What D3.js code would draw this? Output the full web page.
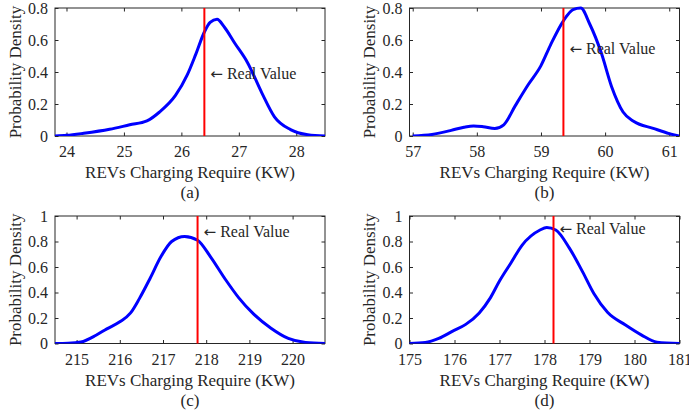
<!DOCTYPE html>
<html>
<head>
<meta charset="utf-8">
<script src="https://cdn.jsdelivr.net/npm/d3@7"></script>
<style>
  body { margin: 0; background: #fff; }
</style>
</head>
<body>
<script>
// --- data ---
var labels = ["(a)", "(b)", "(c)", "(d)"];

var aX = [23.8, 24.0, 24.3, 24.75, 25.1, 25.4, 25.62, 25.9, 26.1, 26.25, 26.4, 26.5, 26.62, 26.75, 26.93, 27.15, 27.4, 27.62, 27.9, 28.2, 28.5];
var aY = [0.0, 0.004, 0.017, 0.042, 0.07, 0.094, 0.15, 0.255, 0.38, 0.51, 0.65, 0.71, 0.73, 0.68, 0.58, 0.46, 0.27, 0.12, 0.04, 0.008, 0.0];

var bX = [57.0, 57.3, 57.6, 57.8, 57.95, 58.1, 58.28, 58.42, 58.6, 58.8, 59.0, 59.15, 59.35, 59.5, 59.62, 59.76, 59.94, 60.1, 60.28, 60.45, 60.75, 61.0, 61.15];
var bY = [0.0, 0.01, 0.035, 0.055, 0.063, 0.058, 0.047, 0.07, 0.19, 0.32, 0.44, 0.57, 0.72, 0.79, 0.80, 0.70, 0.52, 0.31, 0.15, 0.09, 0.048, 0.015, 0.0];

var cX = [214.5, 214.8, 215.1, 215.45, 215.7, 216.0, 216.25, 216.45, 216.7, 216.95, 217.2, 217.5, 217.8, 218.1, 218.45, 218.75, 219.1, 219.5, 219.9, 220.3, 220.75];
var cY = [0.0, 0.002, 0.012, 0.065, 0.115, 0.17, 0.24, 0.35, 0.51, 0.68, 0.8, 0.84, 0.81, 0.68, 0.5, 0.36, 0.23, 0.12, 0.04, 0.008, 0.0];

var dX = [175.0, 175.35, 175.65, 175.95, 176.25, 176.55, 176.8, 177.0, 177.25, 177.5, 177.9, 178.05, 178.25, 178.55, 178.85, 179.1, 179.4, 179.8, 180.15, 180.5, 181.0];
var dY = [0.0, 0.008, 0.04, 0.095, 0.15, 0.24, 0.36, 0.49, 0.63, 0.77, 0.89, 0.91, 0.89, 0.75, 0.56, 0.39, 0.245, 0.145, 0.068, 0.01, 0.0];

var realValues = [26.4, 59.35, 217.8, 178.2];

var xDomains = [[23.8, 28.5], [56.95, 61.16], [214.5, 220.75], [175, 181]];
var yMax = [0.8, 0.8, 1, 1];

var xTicks = [[24, 25, 26, 27, 28], [57, 58, 59, 60, 61], [215, 216, 217, 218, 219, 220], [175, 176, 177, 178, 179, 180, 181]];
var yTicks = [[0, 0.2, 0.4, 0.6, 0.8], [0, 0.2, 0.4, 0.6, 0.8], [0, 0.2, 0.4, 0.6, 0.8, 1], [0, 0.2, 0.4, 0.6, 0.8, 1]];

var seriesX = [aX, bX, cX, dX];
var seriesY = [aY, bY, cY, dY];

// annotation height (data units) of the "Real Value" arrow
var annotY = [0.39, 0.545, 0.88, 0.9];

// --- layout ---
var width = 689, height = 411;
var boxes = [
  {left: 55, top: 8, w: 270, h: 128},
  {left: 409.5, top: 8, w: 270, h: 128},
  {left: 55, top: 216, w: 270, h: 127.5},
  {left: 409.5, top: 216, w: 270, h: 127.5}
];
var tickLen = 3.5;
var axisColor = "#262626";
var serif = "'Liberation Serif', 'Times New Roman', Times, serif";

var svg = d3.select("body").append("svg")
    .attr("width", width)
    .attr("height", height)
    .style("font-family", serif);

boxes.forEach(function(b, i) {
  var g = svg.append("g").attr("transform", "translate(" + b.left + "," + b.top + ")");

  var x = d3.scaleLinear().domain(xDomains[i]).range([0, b.w]);
  var y = d3.scaleLinear().domain([0, yMax[i]]).range([b.h, 0]);

  var xAxis = g.append("g").attr("transform", "translate(0," + b.h + ")")
      .call(d3.axisBottom(x).tickValues(xTicks[i]).tickSizeInner(-tickLen).tickSizeOuter(0).tickPadding(10).tickFormat(d3.format("d")));
  var yAxis = g.append("g")
      .call(d3.axisLeft(y).tickValues(yTicks[i]).tickSizeInner(-tickLen).tickSizeOuter(0).tickPadding(7)
        .tickFormat(function(d) { return d === 0 ? "0" : (d === 1 ? "1" : d3.format(".1f")(d)); }));
  // mirrored ticks on top and right
  var xTop = g.append("g")
      .call(d3.axisTop(x).tickValues(xTicks[i]).tickSizeInner(-tickLen).tickSizeOuter(0).tickFormat(""));
  var yRight = g.append("g").attr("transform", "translate(" + b.w + ",0)")
      .call(d3.axisRight(y).tickValues(yTicks[i]).tickSizeInner(-tickLen).tickSizeOuter(0).tickFormat(""));

  [xAxis, yAxis, xTop, yRight].forEach(function(a) {
    a.attr("font-family", null).attr("font-size", null);
    a.select(".domain").remove();
    a.selectAll("line").attr("stroke", axisColor);
    a.selectAll("text")
      .style("font-family", serif)
      .style("font-size", "16px")
      .attr("fill", axisColor);
  });

  g.append("rect")
      .attr("width", b.w).attr("height", b.h)
      .attr("fill", "none").attr("stroke", axisColor).attr("stroke-width", 1);

  var clip = "clip" + i;
  g.append("clipPath").attr("id", clip).append("rect")
      .attr("x", -2).attr("y", -2).attr("width", b.w + 4).attr("height", b.h + 2);

  var pts = seriesX[i].map(function(v, k) { return [v, seriesY[i][k]]; });
  var line = d3.line()
      .x(function(d) { return x(d[0]); })
      .y(function(d) { return y(d[1]); })
      .curve(d3.curveMonotoneX);

  g.append("path")
      .datum(pts)
      .attr("clip-path", "url(#" + clip + ")")
      .attr("d", line)
      .attr("fill", "none")
      .attr("stroke", "#0000ff")
      .attr("stroke-width", 3)
      .attr("stroke-linejoin", "round");

  g.append("line")
      .attr("x1", x(realValues[i])).attr("x2", x(realValues[i]))
      .attr("y1", 0).attr("y2", b.h)
      .attr("stroke", "#ff0000")
      .attr("stroke-width", 2);

  var ann = g.append("text")
      .attr("x", x(realValues[i]) + 6)
      .attr("y", y(annotY[i]))
      .attr("dy", "0.35em")
      .style("font-family", serif)
      .style("font-size", "16px")
      .attr("fill", "#262626");
  ann.append("tspan")
      .style("font-family", "'DejaVu Sans', sans-serif")
      .style("font-size", "15px")
      .text("\u2190");
  ann.append("tspan").text(" Real Value");

  g.append("text")
      .attr("transform", "translate(" + (-40) + "," + (b.h / 2) + ") rotate(-90)")
      .attr("text-anchor", "middle")
      .attr("dy", "0.35em")
      .style("font-family", serif)
      .style("font-size", "17px")
      .attr("fill", "#262626")
      .text("Probability Density");

  g.append("text")
      .attr("x", b.w / 2).attr("y", b.h + 42)
      .attr("text-anchor", "middle")
      .style("font-family", serif)
      .style("font-size", "17px")
      .attr("fill", "#262626")
      .text("REVs Charging Require (KW)");

  g.append("text")
      .attr("x", b.w / 2).attr("y", b.h + 62)
      .attr("text-anchor", "middle")
      .style("font-family", serif)
      .style("font-size", "17px")
      .attr("fill", "#262626")
      .text(labels[i]);
});
</script>
</body>
</html>
